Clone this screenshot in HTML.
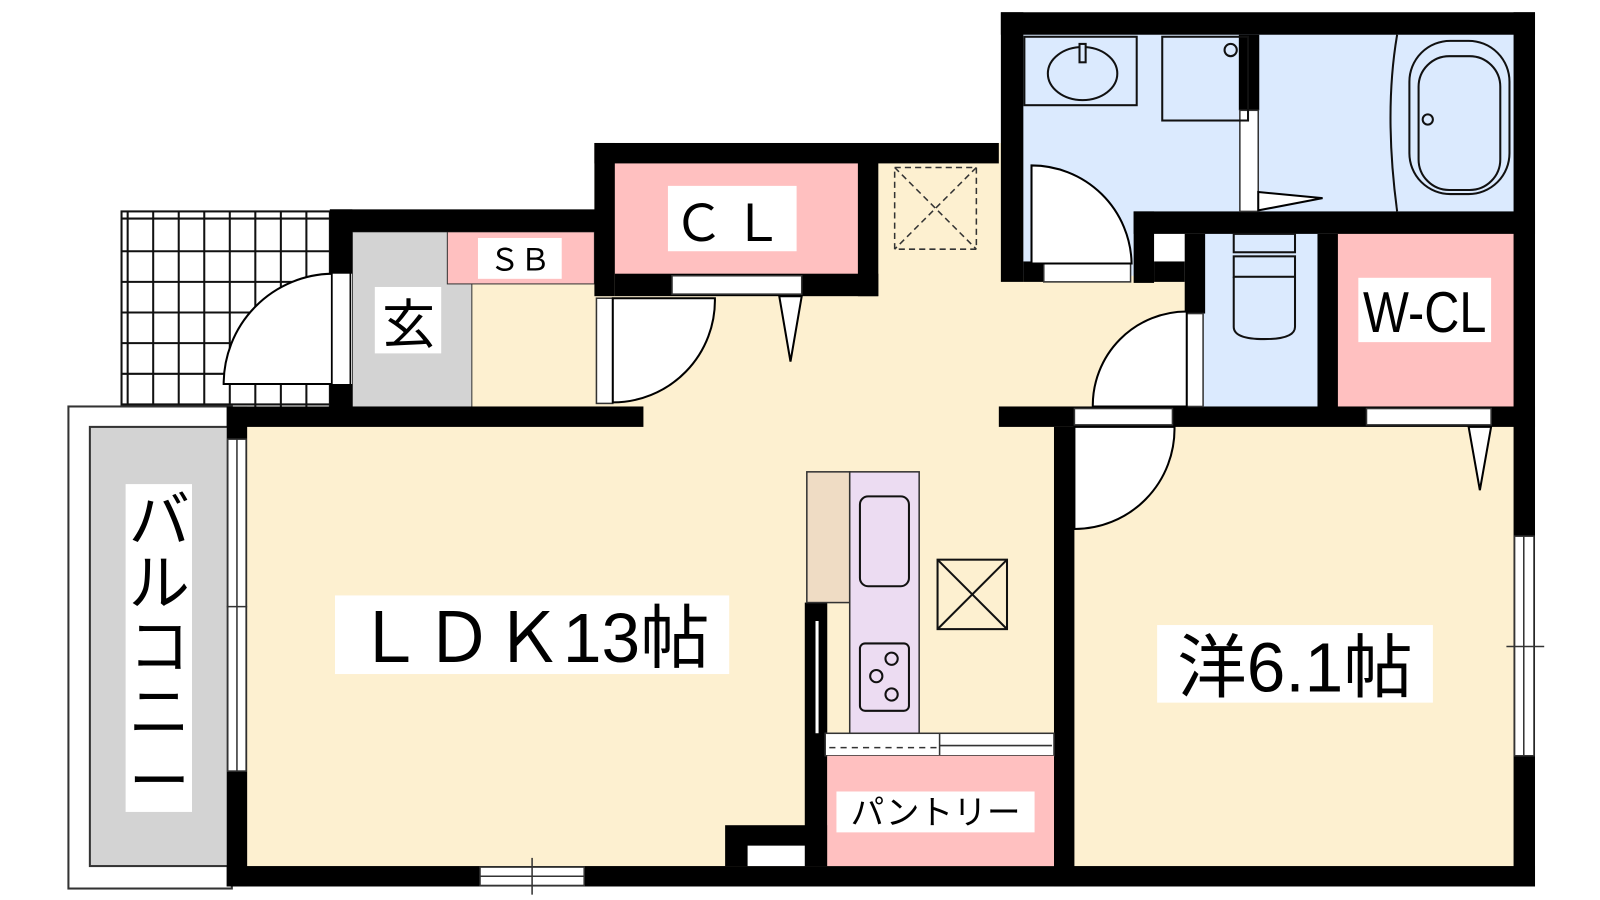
<!DOCTYPE html>
<html><head><meta charset="utf-8"><style>
html,body{margin:0;padding:0;background:#fff;width:1600px;height:900px;overflow:hidden}
svg{display:block}
text{font-family:"Liberation Sans","Noto Sans CJK JP",sans-serif}
</style></head><body>
<svg width="1600" height="900" viewBox="0 0 1600 900" xmlns="http://www.w3.org/2000/svg">
<g transform="scale(1.0213)">
<rect x="222" y="398" width="820" height="470" fill="#fdf0d0"/>
<rect x="582" y="140" width="460" height="280" fill="#fdf0d0"/>
<rect x="1000" y="270" width="180" height="150" fill="#fdf0d0"/>
<rect x="1040" y="410" width="460" height="450" fill="#fdf0d0"/>
<rect x="345" y="227" width="240" height="180" fill="#fdf0d0"/>
<rect x="1000" y="30" width="490" height="180" fill="#dbeafe"/>
<rect x="1000" y="30" width="120" height="240" fill="#dbeafe"/>
<rect x="1178" y="227" width="115" height="175" fill="#dbeafe"/>
<rect x="1308" y="227" width="176" height="173" fill="#ffc0c0"/>
<rect x="345" y="227" width="117" height="175" fill="#d3d3d3" stroke="#333" stroke-width="1"/>
<rect x="438" y="227" width="144" height="51" fill="#ffc0c0" stroke="#333" stroke-width="1"/>
<rect x="600" y="158" width="242" height="112" fill="#ffc0c0"/>
<g stroke="#111" stroke-width="2" fill="none">
<rect x="119" y="207" width="204" height="204"/>
<line x1="119" y1="214" x2="323" y2="214"/>
<line x1="119" y1="246" x2="323" y2="246"/><line x1="119" y1="276" x2="323" y2="276"/>
<line x1="119" y1="306" x2="323" y2="306"/><line x1="119" y1="336" x2="323" y2="336"/>
<line x1="119" y1="366" x2="323" y2="366"/><line x1="119" y1="396" x2="323" y2="396"/>
<line x1="125" y1="207" x2="125" y2="411"/><line x1="150" y1="207" x2="150" y2="411"/>
<line x1="175" y1="207" x2="175" y2="411"/><line x1="200" y1="207" x2="200" y2="411"/>
<line x1="225" y1="207" x2="225" y2="411"/><line x1="250" y1="207" x2="250" y2="411"/>
<line x1="275" y1="207" x2="275" y2="411"/><line x1="300" y1="207" x2="300" y2="411"/>
</g>
<rect x="67" y="398" width="160" height="472" fill="#fff" stroke="#333" stroke-width="2"/>
<rect x="88" y="418" width="136" height="430" fill="#d3d3d3" stroke="#333" stroke-width="2"/>
<path d="M325 268 A108 108 0 0 0 219 376 L325 376 Z" fill="#fff" stroke="#000" stroke-width="2"/>
<rect x="325" y="266" width="18" height="112" fill="#fff" stroke="#000" stroke-width="1.5"/>
<g fill="#000">
<rect x="980" y="12" width="523" height="22"/>
<rect x="980" y="12" width="22" height="264"/>
<rect x="1482" y="12" width="21" height="856"/>
<rect x="1110" y="207" width="393" height="22"/>
<rect x="1110" y="207" width="20" height="70"/>
<rect x="1130" y="256" width="30" height="20"/>
<rect x="1002" y="256" width="20" height="20"/>
<rect x="1160" y="229" width="20" height="78"/>
<rect x="1290" y="229" width="20" height="172"/>
<rect x="1213" y="34" width="20" height="74"/>
<rect x="978" y="398" width="525" height="20"/>
<rect x="1032" y="418" width="20" height="450"/>
<rect x="222" y="848" width="1281" height="20"/>
<rect x="222" y="398" width="20" height="470"/>
<rect x="222" y="398" width="408" height="20"/>
<rect x="323" y="205" width="22" height="63"/>
<rect x="323" y="376" width="22" height="30"/>
<rect x="323" y="205" width="260" height="22"/>
<rect x="582" y="140" width="20" height="150"/>
<rect x="582" y="140" width="396" height="20"/>
<rect x="840" y="158" width="20" height="132"/>
<rect x="602" y="268" width="258" height="22"/>
<rect x="788" y="590" width="22" height="258"/>
<rect x="710" y="808" width="100" height="40"/>
</g>
<rect x="732" y="828" width="56" height="20" fill="#fff"/>
<line x1="800" y1="608" x2="800" y2="718" stroke="#fff" stroke-width="3"/>
<rect x="470" y="849" width="102" height="18" fill="#fff" stroke="#333" stroke-width="1.5"/>
<line x1="470" y1="858" x2="572" y2="858" stroke="#333" stroke-width="1.5"/>
<line x1="521" y1="840" x2="521" y2="876" stroke="#333" stroke-width="1.5"/>
<rect x="223" y="430" width="18" height="325" fill="#fff" stroke="#333" stroke-width="1.5"/>
<line x1="232" y1="430" x2="232" y2="755" stroke="#333" stroke-width="1.5"/>
<line x1="222" y1="594" x2="242" y2="594" stroke="#333" stroke-width="1.5"/>
<rect x="1483" y="525" width="19" height="215" fill="#fff" stroke="#333" stroke-width="1.5"/>
<line x1="1492" y1="525" x2="1492" y2="740" stroke="#333" stroke-width="1.5"/>
<line x1="1475" y1="633" x2="1512" y2="633" stroke="#333" stroke-width="1.5"/>
<rect x="658" y="270" width="127" height="18" fill="#fff" stroke="#333" stroke-width="1.5"/>
<path d="M763 290 L785 290 L774 354 Z" fill="#fff" stroke="#000" stroke-width="2"/>
<rect x="584" y="292" width="16" height="103" fill="#fff" stroke="#333" stroke-width="1.5"/>
<path d="M600 292 L700 292 A100 100 0 0 1 600 394 Z" fill="#fff" stroke="#000" stroke-width="2"/>
<rect x="1022" y="258" width="85" height="18" fill="#fff" stroke="#333" stroke-width="1.5"/>
<path d="M1010 258 L1010 162 A98 98 0 0 1 1108 258 Z" fill="#fff" stroke="#000" stroke-width="2"/>
<rect x="1214" y="108" width="18" height="99" fill="#fff" stroke="#333" stroke-width="1.5"/>
<path d="M1232 188 L1295 194 L1232 206 Z" fill="#fff" stroke="#000" stroke-width="2"/>
<rect x="1162" y="307" width="16" height="91" fill="#fff" stroke="#333" stroke-width="1.5"/>
<path d="M1162 305 A92 92 0 0 0 1070 398 L1162 398 Z" fill="#fff" stroke="#000" stroke-width="2"/>
<rect x="1052" y="400" width="96" height="16" fill="#fff" stroke="#333" stroke-width="1.5"/>
<path d="M1052 418 L1150 418 A98 98 0 0 1 1052 518 Z" fill="#fff" stroke="#000" stroke-width="2"/>
<rect x="1338" y="400" width="122" height="16" fill="#fff" stroke="#333" stroke-width="1.5"/>
<path d="M1438 418 L1460 418 L1449 480 Z" fill="#fff" stroke="#000" stroke-width="2"/>
<g stroke="#111" stroke-width="2" fill="none">
<rect x="1003" y="36" width="110" height="67"/>
<ellipse cx="1060" cy="72" rx="34" ry="26"/>
<rect x="1057" y="43" width="6" height="18" fill="#dbeafe"/>
<rect x="1138" y="36" width="84" height="82"/>
<circle cx="1205" cy="49" r="6"/>
<path d="M1368 34 Q1355 110 1368 207"/>
<rect x="1380" y="40" width="98" height="150" rx="40"/>
<rect x="1389" y="55" width="80" height="131" rx="30"/>
<circle cx="1398" cy="117" r="5"/>
<rect x="1208" y="229" width="60" height="18"/>
<rect x="1208" y="251" width="60" height="20"/>
<path d="M1208 271 L1208 320 Q1208 332 1238 332 Q1268 332 1268 320 L1268 271"/>
</g>
<g stroke="#333" stroke-width="1.5" fill="none">
<rect x="876" y="164" width="80" height="80" stroke-dasharray="6 4"/>
<line x1="876" y1="164" x2="956" y2="244" stroke-dasharray="6 4"/>
<line x1="956" y1="164" x2="876" y2="244" stroke-dasharray="6 4"/>
</g>
<g stroke="#111" stroke-width="2" fill="none">
<rect x="918" y="548" width="68" height="68"/>
<line x1="918" y1="548" x2="986" y2="616"/><line x1="986" y1="548" x2="918" y2="616"/>
</g>
<rect x="790" y="462" width="42" height="128" fill="#efdcc4" stroke="#333" stroke-width="1.5"/>
<rect x="832" y="462" width="68" height="256" fill="#ecdcf2" stroke="#333" stroke-width="1.5"/>
<rect x="842" y="486" width="48" height="88" rx="8" fill="none" stroke="#111" stroke-width="2"/>
<rect x="842" y="630" width="48" height="66" rx="5" fill="none" stroke="#111" stroke-width="2"/>
<g fill="none" stroke="#111" stroke-width="2"><circle cx="873" cy="645" r="6"/><circle cx="858" cy="662" r="6"/><circle cx="873" cy="680" r="6"/></g>
<rect x="808" y="718" width="224" height="22" fill="#fff" stroke="#333" stroke-width="1.5"/>
<line x1="920" y1="718" x2="920" y2="740" stroke="#333" stroke-width="1.5"/>
<line x1="812" y1="732" x2="918" y2="732" stroke="#333" stroke-width="1.5" stroke-dasharray="6 5"/>
<line x1="920" y1="730" x2="1030" y2="730" stroke="#333" stroke-width="1.5"/>
<rect x="810" y="740" width="222" height="108" fill="#ffc0c0"/>
<g fill="#fff">
<rect x="328" y="583" width="386" height="77"/>
<rect x="1133" y="612" width="270" height="76"/>
<rect x="123" y="474" width="65" height="321"/>
<rect x="654" y="182" width="126" height="64"/>
<rect x="468" y="233" width="82" height="40"/>
<rect x="367" y="281" width="65" height="65"/>
<rect x="1330" y="272" width="130" height="63"/>
<rect x="819" y="775" width="194" height="40"/>
</g>
<g fill="#000">
<text x="521" y="648" font-size="68" text-anchor="middle">ＬＤＫ13帖</text>
<text x="1268" y="677" font-size="68" text-anchor="middle">洋6.1帖</text>
<text x="717" y="236" font-size="50" text-anchor="middle" letter-spacing="8">ＣＬ</text>
<text x="509" y="265" font-size="30" text-anchor="middle">ＳＢ</text>
<text x="400" y="336" font-size="52" text-anchor="middle">玄</text>
<text x="1395" y="325" font-size="56" text-anchor="middle" transform="translate(1395 0) scale(0.85 1) translate(-1395 0)">W-CL</text>
<text x="916" y="807" font-size="33" text-anchor="middle">パントリー</text>
<text font-size="60" text-anchor="middle"><tspan x="156" y="530">バ</tspan><tspan x="156" y="592">ル</tspan><tspan x="156" y="654">コ</tspan><tspan x="156" y="718">ニ</tspan><tspan x="156" y="786">ー</tspan></text>
</g>
</g>
</svg>
</body></html>
